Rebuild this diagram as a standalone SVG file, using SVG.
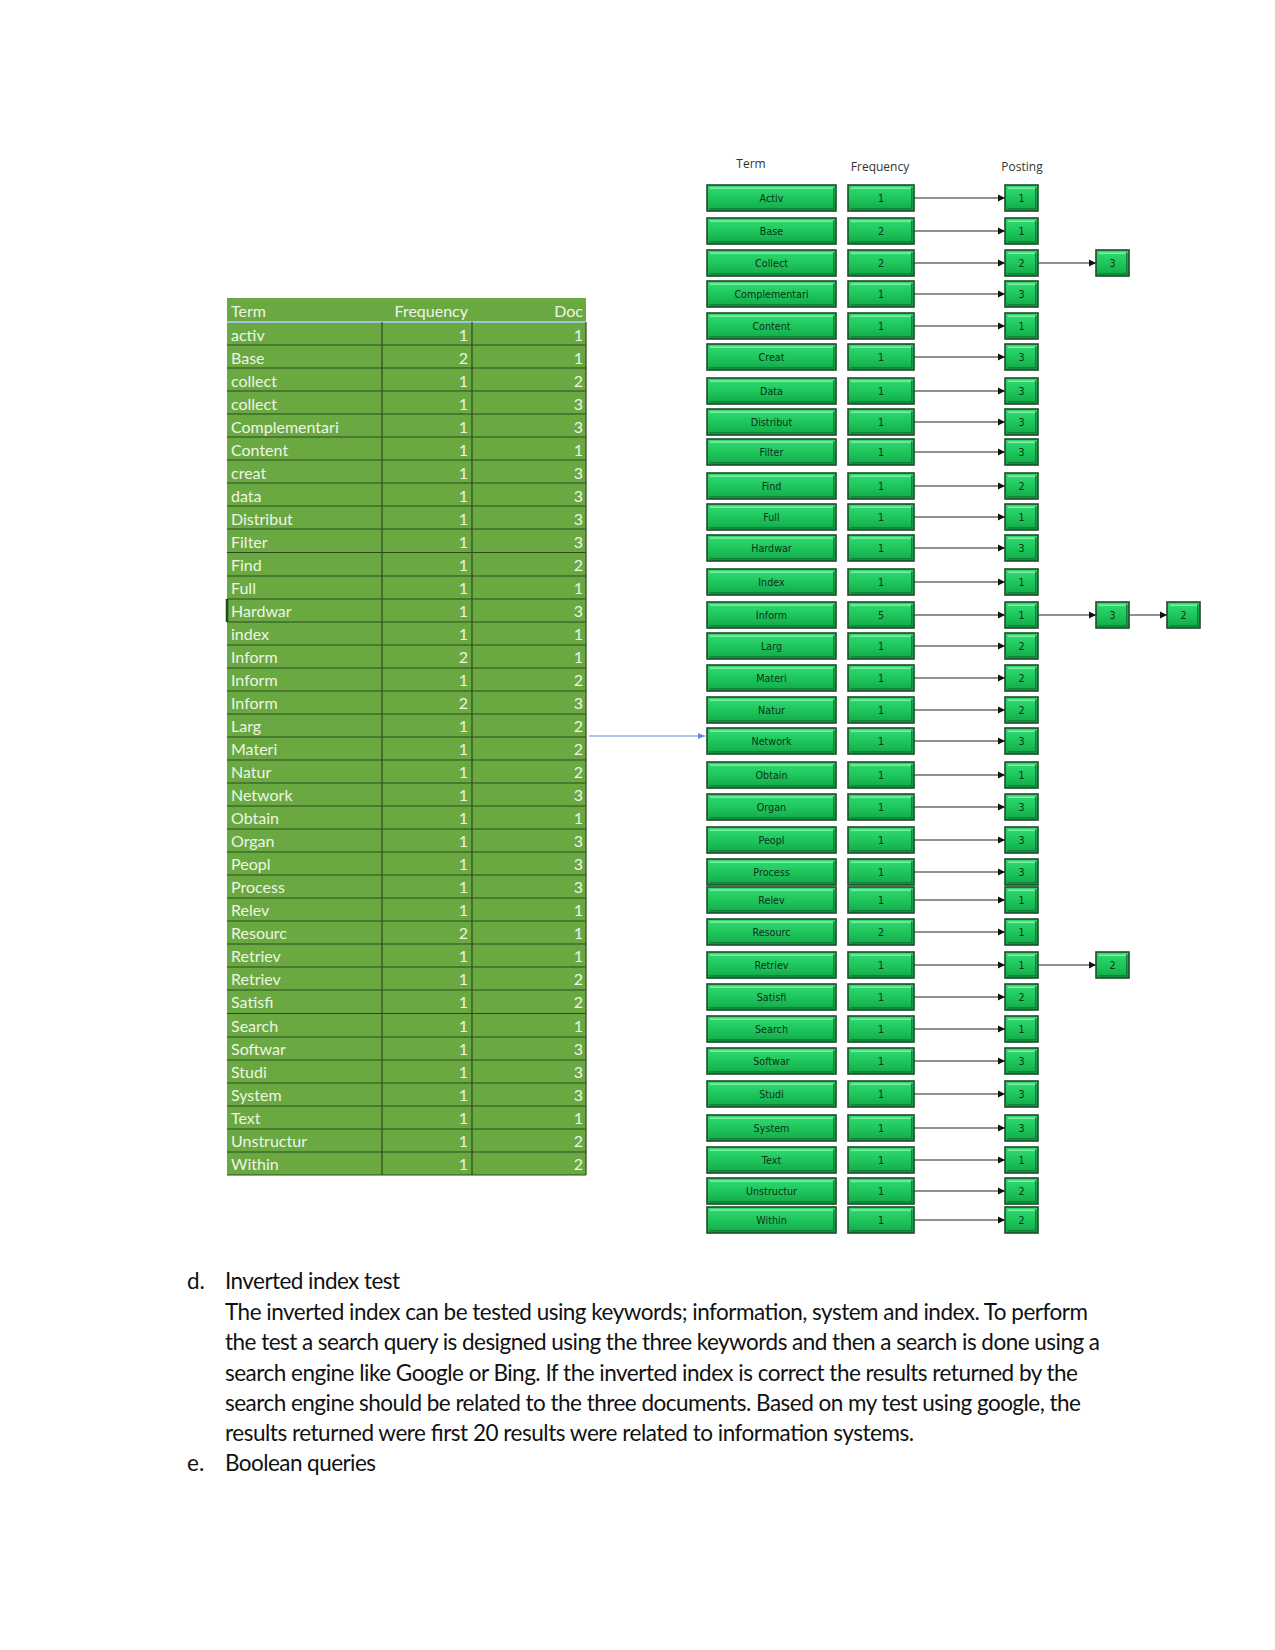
<svg xmlns="http://www.w3.org/2000/svg" xmlns:xlink="http://www.w3.org/1999/xlink" width="1275" height="1650" viewBox="0 0 1275 1650">
<style>
.tc{fill:#6aa842}
.rl{stroke:#2b4a1f;stroke-width:1.2}
.tt{font-family:Lato,"Liberation Sans",sans-serif;font-size:16px;fill:#eef5e4}
.num{text-anchor:end}
.bx{fill:url(#gg);stroke:#1f4a2a;stroke-width:1.6}
.hl{stroke:#8ef3b2;stroke-width:1.3;fill:none}
.sh{stroke:#0d7834;stroke-width:1.3;fill:none}
.bt{font-family:"DejaVu Sans",Verdana,sans-serif;font-size:9.6px;fill:#10301a;text-anchor:middle}
.hd{font-family:"Open Sans","Liberation Sans",sans-serif;font-size:12px;fill:#333;text-anchor:middle}
.cn{stroke:#222;stroke-width:1.2;fill:none}
.body{font-family:Lato,"Liberation Sans",sans-serif;font-size:22.5px;fill:#111}
</style>
<defs>
<linearGradient id="gg" x1="0" y1="0" x2="0" y2="1">
<stop offset="0" stop-color="#34dc74"/>
<stop offset="0.5" stop-color="#1ec75c"/>
<stop offset="1" stop-color="#13a748"/>
</linearGradient>
<marker id="ah" markerWidth="8" markerHeight="8" refX="7" refY="4" orient="auto" markerUnits="userSpaceOnUse"><path d="M0,0.5 L7,4 L0,7.5z" fill="#111"/></marker>
<marker id="ahb" markerWidth="8" markerHeight="8" refX="7" refY="4" orient="auto" markerUnits="userSpaceOnUse"><path d="M0,1 L7,4 L0,7z" fill="#5b8bd0"/></marker>
<g id="boxT"><rect x="0" y="0" width="129" height="26" class="bx"/><path class="hl" d="M3 3.2H126"/><path class="sh" d="M126.8 2.5V23.8H2.5"/></g>
<g id="boxF"><rect x="0" y="0" width="66" height="26" class="bx"/><path class="hl" d="M3 3.2H63"/><path class="sh" d="M63.8 2.5V23.8H2.5"/></g>
<g id="boxP"><rect x="0" y="0" width="33" height="26" class="bx"/><path class="hl" d="M3 3.2H30"/><path class="sh" d="M30.8 2.5V23.8H2.5"/></g>
</defs>
<rect width="1275" height="1650" fill="#fff"/>

<!-- Left table -->
<g id="table">
<rect class="tc" x="227" y="298" width="359" height="877"/>
<line x1="227" y1="322" x2="586" y2="322" stroke="#9fc5e0" stroke-width="2"/>
<text class="tt" x="231" y="317">Term</text>
<text class="tt num" x="468" y="317">Frequency</text>
<text class="tt num" x="583" y="317">Doc</text>
<g class="rl">
<line x1="382" y1="322" x2="382" y2="1175"/>
<line x1="472" y1="322" x2="472" y2="1175"/>
<line x1="586" y1="322" x2="586" y2="1175"/>
<line x1="227" y1="345" x2="586" y2="345"/>
<line x1="227" y1="368" x2="586" y2="368"/>
<line x1="227" y1="391" x2="586" y2="391"/>
<line x1="227" y1="414" x2="586" y2="414"/>
<line x1="227" y1="437" x2="586" y2="437"/>
<line x1="227" y1="460" x2="586" y2="460"/>
<line x1="227" y1="483" x2="586" y2="483"/>
<line x1="227" y1="506" x2="586" y2="506"/>
<line x1="227" y1="529" x2="586" y2="529"/>
<line x1="227" y1="552.5" x2="586" y2="552.5"/>
<line x1="227" y1="576" x2="586" y2="576"/>
<line x1="227" y1="599" x2="586" y2="599"/>
<line x1="227" y1="622" x2="586" y2="622"/>
<line x1="227" y1="645" x2="586" y2="645"/>
<line x1="227" y1="668" x2="586" y2="668"/>
<line x1="227" y1="691" x2="586" y2="691"/>
<line x1="227" y1="714" x2="586" y2="714"/>
<line x1="227" y1="737" x2="586" y2="737"/>
<line x1="227" y1="760" x2="586" y2="760"/>
<line x1="227" y1="783" x2="586" y2="783"/>
<line x1="227" y1="806" x2="586" y2="806"/>
<line x1="227" y1="829" x2="586" y2="829"/>
<line x1="227" y1="852" x2="586" y2="852"/>
<line x1="227" y1="875" x2="586" y2="875"/>
<line x1="227" y1="898" x2="586" y2="898"/>
<line x1="227" y1="921" x2="586" y2="921"/>
<line x1="227" y1="944" x2="586" y2="944"/>
<line x1="227" y1="967" x2="586" y2="967"/>
<line x1="227" y1="990" x2="586" y2="990"/>
<line x1="227" y1="1013.5" x2="586" y2="1013.5"/>
<line x1="227" y1="1037" x2="586" y2="1037"/>
<line x1="227" y1="1060" x2="586" y2="1060"/>
<line x1="227" y1="1083" x2="586" y2="1083"/>
<line x1="227" y1="1106" x2="586" y2="1106"/>
<line x1="227" y1="1129" x2="586" y2="1129"/>
<line x1="227" y1="1152" x2="586" y2="1152"/>
<line x1="227" y1="1175" x2="586" y2="1175"/>
</g>
<line x1="227" y1="599" x2="227" y2="622" stroke="#1e4d1a" stroke-width="2.5"/>
<g class="tt">
<text x="231" y="341">activ</text><text class="num" x="468" y="341">1</text><text class="num" x="583" y="341">1</text>
<text x="231" y="364">Base</text><text class="num" x="468" y="364">2</text><text class="num" x="583" y="364">1</text>
<text x="231" y="387">collect</text><text class="num" x="468" y="387">1</text><text class="num" x="583" y="387">2</text>
<text x="231" y="410">collect</text><text class="num" x="468" y="410">1</text><text class="num" x="583" y="410">3</text>
<text x="231" y="433">Complementari</text><text class="num" x="468" y="433">1</text><text class="num" x="583" y="433">3</text>
<text x="231" y="456">Content</text><text class="num" x="468" y="456">1</text><text class="num" x="583" y="456">1</text>
<text x="231" y="479">creat</text><text class="num" x="468" y="479">1</text><text class="num" x="583" y="479">3</text>
<text x="231" y="502">data</text><text class="num" x="468" y="502">1</text><text class="num" x="583" y="502">3</text>
<text x="231" y="525">Distribut</text><text class="num" x="468" y="525">1</text><text class="num" x="583" y="525">3</text>
<text x="231" y="548">Filter</text><text class="num" x="468" y="548">1</text><text class="num" x="583" y="548">3</text>
<text x="231" y="571">Find</text><text class="num" x="468" y="571">1</text><text class="num" x="583" y="571">2</text>
<text x="231" y="594">Full</text><text class="num" x="468" y="594">1</text><text class="num" x="583" y="594">1</text>
<text x="231" y="617">Hardwar</text><text class="num" x="468" y="617">1</text><text class="num" x="583" y="617">3</text>
<text x="231" y="640">index</text><text class="num" x="468" y="640">1</text><text class="num" x="583" y="640">1</text>
<text x="231" y="663">Inform</text><text class="num" x="468" y="663">2</text><text class="num" x="583" y="663">1</text>
<text x="231" y="686">Inform</text><text class="num" x="468" y="686">1</text><text class="num" x="583" y="686">2</text>
<text x="231" y="709">Inform</text><text class="num" x="468" y="709">2</text><text class="num" x="583" y="709">3</text>
<text x="231" y="732">Larg</text><text class="num" x="468" y="732">1</text><text class="num" x="583" y="732">2</text>
<text x="231" y="755">Materi</text><text class="num" x="468" y="755">1</text><text class="num" x="583" y="755">2</text>
<text x="231" y="778">Natur</text><text class="num" x="468" y="778">1</text><text class="num" x="583" y="778">2</text>
<text x="231" y="801">Network</text><text class="num" x="468" y="801">1</text><text class="num" x="583" y="801">3</text>
<text x="231" y="824">Obtain</text><text class="num" x="468" y="824">1</text><text class="num" x="583" y="824">1</text>
<text x="231" y="847">Organ</text><text class="num" x="468" y="847">1</text><text class="num" x="583" y="847">3</text>
<text x="231" y="870">Peopl</text><text class="num" x="468" y="870">1</text><text class="num" x="583" y="870">3</text>
<text x="231" y="893">Process</text><text class="num" x="468" y="893">1</text><text class="num" x="583" y="893">3</text>
<text x="231" y="916">Relev</text><text class="num" x="468" y="916">1</text><text class="num" x="583" y="916">1</text>
<text x="231" y="939">Resourc</text><text class="num" x="468" y="939">2</text><text class="num" x="583" y="939">1</text>
<text x="231" y="962">Retriev</text><text class="num" x="468" y="962">1</text><text class="num" x="583" y="962">1</text>
<text x="231" y="985">Retriev</text><text class="num" x="468" y="985">1</text><text class="num" x="583" y="985">2</text>
<text x="231" y="1008">Satisfi</text><text class="num" x="468" y="1008">1</text><text class="num" x="583" y="1008">2</text>
<text x="231" y="1032">Search</text><text class="num" x="468" y="1032">1</text><text class="num" x="583" y="1032">1</text>
<text x="231" y="1055">Softwar</text><text class="num" x="468" y="1055">1</text><text class="num" x="583" y="1055">3</text>
<text x="231" y="1078">Studi</text><text class="num" x="468" y="1078">1</text><text class="num" x="583" y="1078">3</text>
<text x="231" y="1101">System</text><text class="num" x="468" y="1101">1</text><text class="num" x="583" y="1101">3</text>
<text x="231" y="1124">Text</text><text class="num" x="468" y="1124">1</text><text class="num" x="583" y="1124">1</text>
<text x="231" y="1147">Unstructur</text><text class="num" x="468" y="1147">1</text><text class="num" x="583" y="1147">2</text>
<text x="231" y="1170">Within</text><text class="num" x="468" y="1170">1</text><text class="num" x="583" y="1170">2</text>
</g>
</g>

<!-- Right diagram headers -->
<g id="headers">
<text class="hd" x="751" y="168">Term</text>
<text class="hd" x="880" y="171">Frequency</text>
<text class="hd" x="1022" y="171">Posting</text>
</g>

<!-- Connectors -->
<g id="connectors">
<line x1="589" y1="736" x2="705" y2="736" stroke="#5b8bd0" stroke-width="1" marker-end="url(#ahb)"/>
<g class="cn" marker-end="url(#ah)">
<line x1="914" y1="198" x2="1005" y2="198"/>
<line x1="914" y1="231" x2="1005" y2="231"/>
<line x1="914" y1="263" x2="1005" y2="263"/>
<line x1="1038" y1="263" x2="1096" y2="263"/>
<line x1="914" y1="294" x2="1005" y2="294"/>
<line x1="914" y1="326" x2="1005" y2="326"/>
<line x1="914" y1="357" x2="1005" y2="357"/>
<line x1="914" y1="391" x2="1005" y2="391"/>
<line x1="914" y1="422" x2="1005" y2="422"/>
<line x1="914" y1="452" x2="1005" y2="452"/>
<line x1="914" y1="486" x2="1005" y2="486"/>
<line x1="914" y1="517" x2="1005" y2="517"/>
<line x1="914" y1="548" x2="1005" y2="548"/>
<line x1="914" y1="582" x2="1005" y2="582"/>
<line x1="914" y1="615" x2="1005" y2="615"/>
<line x1="1038" y1="615" x2="1096" y2="615"/>
<line x1="1129" y1="615" x2="1167" y2="615"/>
<line x1="914" y1="646" x2="1005" y2="646"/>
<line x1="914" y1="678" x2="1005" y2="678"/>
<line x1="914" y1="710" x2="1005" y2="710"/>
<line x1="914" y1="741" x2="1005" y2="741"/>
<line x1="914" y1="775" x2="1005" y2="775"/>
<line x1="914" y1="807" x2="1005" y2="807"/>
<line x1="914" y1="840" x2="1005" y2="840"/>
<line x1="914" y1="872" x2="1005" y2="872"/>
<line x1="914" y1="900" x2="1005" y2="900"/>
<line x1="914" y1="932" x2="1005" y2="932"/>
<line x1="914" y1="965" x2="1005" y2="965"/>
<line x1="1038" y1="965" x2="1096" y2="965"/>
<line x1="914" y1="997" x2="1005" y2="997"/>
<line x1="914" y1="1029" x2="1005" y2="1029"/>
<line x1="914" y1="1061" x2="1005" y2="1061"/>
<line x1="914" y1="1094" x2="1005" y2="1094"/>
<line x1="914" y1="1128" x2="1005" y2="1128"/>
<line x1="914" y1="1160" x2="1005" y2="1160"/>
<line x1="914" y1="1191" x2="1005" y2="1191"/>
<line x1="914" y1="1220" x2="1005" y2="1220"/>
</g>
</g>

<!-- Nodes -->
<g id="nodes">
<g id="t-activ"><use xlink:href="#boxT" x="707" y="185"/><text class="bt" x="771.5" y="201.5">Activ</text></g>
<g id="f-activ"><use xlink:href="#boxF" x="848" y="185"/><text class="bt" x="881" y="201.5">1</text></g>
<g id="p-activ-1"><use xlink:href="#boxP" x="1005" y="185"/><text class="bt" x="1021.5" y="201.5">1</text></g>

<g id="t-base"><use xlink:href="#boxT" x="707" y="218"/><text class="bt" x="771.5" y="234.5">Base</text></g>
<g id="f-base"><use xlink:href="#boxF" x="848" y="218"/><text class="bt" x="881" y="234.5">2</text></g>
<g id="p-base-1"><use xlink:href="#boxP" x="1005" y="218"/><text class="bt" x="1021.5" y="234.5">1</text></g>

<g id="t-collect"><use xlink:href="#boxT" x="707" y="250"/><text class="bt" x="771.5" y="266.5">Collect</text></g>
<g id="f-collect"><use xlink:href="#boxF" x="848" y="250"/><text class="bt" x="881" y="266.5">2</text></g>
<g id="p-collect-1"><use xlink:href="#boxP" x="1005" y="250"/><text class="bt" x="1021.5" y="266.5">2</text></g>
<g id="p-collect-2"><use xlink:href="#boxP" x="1096" y="250"/><text class="bt" x="1112.5" y="266.5">3</text></g>

<g id="t-complementari"><use xlink:href="#boxT" x="707" y="281"/><text class="bt" x="771.5" y="297.5">Complementari</text></g>
<g id="f-complementari"><use xlink:href="#boxF" x="848" y="281"/><text class="bt" x="881" y="297.5">1</text></g>
<g id="p-complementari-1"><use xlink:href="#boxP" x="1005" y="281"/><text class="bt" x="1021.5" y="297.5">3</text></g>

<g id="t-content"><use xlink:href="#boxT" x="707" y="313"/><text class="bt" x="771.5" y="329.5">Content</text></g>
<g id="f-content"><use xlink:href="#boxF" x="848" y="313"/><text class="bt" x="881" y="329.5">1</text></g>
<g id="p-content-1"><use xlink:href="#boxP" x="1005" y="313"/><text class="bt" x="1021.5" y="329.5">1</text></g>

<g id="t-creat"><use xlink:href="#boxT" x="707" y="344"/><text class="bt" x="771.5" y="360.5">Creat</text></g>
<g id="f-creat"><use xlink:href="#boxF" x="848" y="344"/><text class="bt" x="881" y="360.5">1</text></g>
<g id="p-creat-1"><use xlink:href="#boxP" x="1005" y="344"/><text class="bt" x="1021.5" y="360.5">3</text></g>

<g id="t-data"><use xlink:href="#boxT" x="707" y="378"/><text class="bt" x="771.5" y="394.5">Data</text></g>
<g id="f-data"><use xlink:href="#boxF" x="848" y="378"/><text class="bt" x="881" y="394.5">1</text></g>
<g id="p-data-1"><use xlink:href="#boxP" x="1005" y="378"/><text class="bt" x="1021.5" y="394.5">3</text></g>

<g id="t-distribut"><use xlink:href="#boxT" x="707" y="409"/><text class="bt" x="771.5" y="425.5">Distribut</text></g>
<g id="f-distribut"><use xlink:href="#boxF" x="848" y="409"/><text class="bt" x="881" y="425.5">1</text></g>
<g id="p-distribut-1"><use xlink:href="#boxP" x="1005" y="409"/><text class="bt" x="1021.5" y="425.5">3</text></g>

<g id="t-filter"><use xlink:href="#boxT" x="707" y="439"/><text class="bt" x="771.5" y="455.5">Filter</text></g>
<g id="f-filter"><use xlink:href="#boxF" x="848" y="439"/><text class="bt" x="881" y="455.5">1</text></g>
<g id="p-filter-1"><use xlink:href="#boxP" x="1005" y="439"/><text class="bt" x="1021.5" y="455.5">3</text></g>

<g id="t-find"><use xlink:href="#boxT" x="707" y="473"/><text class="bt" x="771.5" y="489.5">Find</text></g>
<g id="f-find"><use xlink:href="#boxF" x="848" y="473"/><text class="bt" x="881" y="489.5">1</text></g>
<g id="p-find-1"><use xlink:href="#boxP" x="1005" y="473"/><text class="bt" x="1021.5" y="489.5">2</text></g>

<g id="t-full"><use xlink:href="#boxT" x="707" y="504"/><text class="bt" x="771.5" y="520.5">Full</text></g>
<g id="f-full"><use xlink:href="#boxF" x="848" y="504"/><text class="bt" x="881" y="520.5">1</text></g>
<g id="p-full-1"><use xlink:href="#boxP" x="1005" y="504"/><text class="bt" x="1021.5" y="520.5">1</text></g>

<g id="t-hardwar"><use xlink:href="#boxT" x="707" y="535"/><text class="bt" x="771.5" y="551.5">Hardwar</text></g>
<g id="f-hardwar"><use xlink:href="#boxF" x="848" y="535"/><text class="bt" x="881" y="551.5">1</text></g>
<g id="p-hardwar-1"><use xlink:href="#boxP" x="1005" y="535"/><text class="bt" x="1021.5" y="551.5">3</text></g>

<g id="t-index"><use xlink:href="#boxT" x="707" y="569"/><text class="bt" x="771.5" y="585.5">Index</text></g>
<g id="f-index"><use xlink:href="#boxF" x="848" y="569"/><text class="bt" x="881" y="585.5">1</text></g>
<g id="p-index-1"><use xlink:href="#boxP" x="1005" y="569"/><text class="bt" x="1021.5" y="585.5">1</text></g>

<g id="t-inform"><use xlink:href="#boxT" x="707" y="602"/><text class="bt" x="771.5" y="618.5">Inform</text></g>
<g id="f-inform"><use xlink:href="#boxF" x="848" y="602"/><text class="bt" x="881" y="618.5">5</text></g>
<g id="p-inform-1"><use xlink:href="#boxP" x="1005" y="602"/><text class="bt" x="1021.5" y="618.5">1</text></g>
<g id="p-inform-2"><use xlink:href="#boxP" x="1096" y="602"/><text class="bt" x="1112.5" y="618.5">3</text></g>
<g id="p-inform-3"><use xlink:href="#boxP" x="1167" y="602"/><text class="bt" x="1183.5" y="618.5">2</text></g>

<g id="t-larg"><use xlink:href="#boxT" x="707" y="633"/><text class="bt" x="771.5" y="649.5">Larg</text></g>
<g id="f-larg"><use xlink:href="#boxF" x="848" y="633"/><text class="bt" x="881" y="649.5">1</text></g>
<g id="p-larg-1"><use xlink:href="#boxP" x="1005" y="633"/><text class="bt" x="1021.5" y="649.5">2</text></g>

<g id="t-materi"><use xlink:href="#boxT" x="707" y="665"/><text class="bt" x="771.5" y="681.5">Materi</text></g>
<g id="f-materi"><use xlink:href="#boxF" x="848" y="665"/><text class="bt" x="881" y="681.5">1</text></g>
<g id="p-materi-1"><use xlink:href="#boxP" x="1005" y="665"/><text class="bt" x="1021.5" y="681.5">2</text></g>

<g id="t-natur"><use xlink:href="#boxT" x="707" y="697"/><text class="bt" x="771.5" y="713.5">Natur</text></g>
<g id="f-natur"><use xlink:href="#boxF" x="848" y="697"/><text class="bt" x="881" y="713.5">1</text></g>
<g id="p-natur-1"><use xlink:href="#boxP" x="1005" y="697"/><text class="bt" x="1021.5" y="713.5">2</text></g>

<g id="t-network"><use xlink:href="#boxT" x="707" y="728"/><text class="bt" x="771.5" y="744.5">Network</text></g>
<g id="f-network"><use xlink:href="#boxF" x="848" y="728"/><text class="bt" x="881" y="744.5">1</text></g>
<g id="p-network-1"><use xlink:href="#boxP" x="1005" y="728"/><text class="bt" x="1021.5" y="744.5">3</text></g>

<g id="t-obtain"><use xlink:href="#boxT" x="707" y="762"/><text class="bt" x="771.5" y="778.5">Obtain</text></g>
<g id="f-obtain"><use xlink:href="#boxF" x="848" y="762"/><text class="bt" x="881" y="778.5">1</text></g>
<g id="p-obtain-1"><use xlink:href="#boxP" x="1005" y="762"/><text class="bt" x="1021.5" y="778.5">1</text></g>

<g id="t-organ"><use xlink:href="#boxT" x="707" y="794"/><text class="bt" x="771.5" y="810.5">Organ</text></g>
<g id="f-organ"><use xlink:href="#boxF" x="848" y="794"/><text class="bt" x="881" y="810.5">1</text></g>
<g id="p-organ-1"><use xlink:href="#boxP" x="1005" y="794"/><text class="bt" x="1021.5" y="810.5">3</text></g>

<g id="t-peopl"><use xlink:href="#boxT" x="707" y="827"/><text class="bt" x="771.5" y="843.5">Peopl</text></g>
<g id="f-peopl"><use xlink:href="#boxF" x="848" y="827"/><text class="bt" x="881" y="843.5">1</text></g>
<g id="p-peopl-1"><use xlink:href="#boxP" x="1005" y="827"/><text class="bt" x="1021.5" y="843.5">3</text></g>

<g id="t-process"><use xlink:href="#boxT" x="707" y="859"/><text class="bt" x="771.5" y="875.5">Process</text></g>
<g id="f-process"><use xlink:href="#boxF" x="848" y="859"/><text class="bt" x="881" y="875.5">1</text></g>
<g id="p-process-1"><use xlink:href="#boxP" x="1005" y="859"/><text class="bt" x="1021.5" y="875.5">3</text></g>

<g id="t-relev"><use xlink:href="#boxT" x="707" y="887"/><text class="bt" x="771.5" y="903.5">Relev</text></g>
<g id="f-relev"><use xlink:href="#boxF" x="848" y="887"/><text class="bt" x="881" y="903.5">1</text></g>
<g id="p-relev-1"><use xlink:href="#boxP" x="1005" y="887"/><text class="bt" x="1021.5" y="903.5">1</text></g>

<g id="t-resourc"><use xlink:href="#boxT" x="707" y="919"/><text class="bt" x="771.5" y="935.5">Resourc</text></g>
<g id="f-resourc"><use xlink:href="#boxF" x="848" y="919"/><text class="bt" x="881" y="935.5">2</text></g>
<g id="p-resourc-1"><use xlink:href="#boxP" x="1005" y="919"/><text class="bt" x="1021.5" y="935.5">1</text></g>

<g id="t-retriev"><use xlink:href="#boxT" x="707" y="952"/><text class="bt" x="771.5" y="968.5">Retriev</text></g>
<g id="f-retriev"><use xlink:href="#boxF" x="848" y="952"/><text class="bt" x="881" y="968.5">1</text></g>
<g id="p-retriev-1"><use xlink:href="#boxP" x="1005" y="952"/><text class="bt" x="1021.5" y="968.5">1</text></g>
<g id="p-retriev-2"><use xlink:href="#boxP" x="1096" y="952"/><text class="bt" x="1112.5" y="968.5">2</text></g>

<g id="t-satisfi"><use xlink:href="#boxT" x="707" y="984"/><text class="bt" x="771.5" y="1000.5">Satisfi</text></g>
<g id="f-satisfi"><use xlink:href="#boxF" x="848" y="984"/><text class="bt" x="881" y="1000.5">1</text></g>
<g id="p-satisfi-1"><use xlink:href="#boxP" x="1005" y="984"/><text class="bt" x="1021.5" y="1000.5">2</text></g>

<g id="t-search"><use xlink:href="#boxT" x="707" y="1016"/><text class="bt" x="771.5" y="1032.5">Search</text></g>
<g id="f-search"><use xlink:href="#boxF" x="848" y="1016"/><text class="bt" x="881" y="1032.5">1</text></g>
<g id="p-search-1"><use xlink:href="#boxP" x="1005" y="1016"/><text class="bt" x="1021.5" y="1032.5">1</text></g>

<g id="t-softwar"><use xlink:href="#boxT" x="707" y="1048"/><text class="bt" x="771.5" y="1064.5">Softwar</text></g>
<g id="f-softwar"><use xlink:href="#boxF" x="848" y="1048"/><text class="bt" x="881" y="1064.5">1</text></g>
<g id="p-softwar-1"><use xlink:href="#boxP" x="1005" y="1048"/><text class="bt" x="1021.5" y="1064.5">3</text></g>

<g id="t-studi"><use xlink:href="#boxT" x="707" y="1081"/><text class="bt" x="771.5" y="1097.5">Studi</text></g>
<g id="f-studi"><use xlink:href="#boxF" x="848" y="1081"/><text class="bt" x="881" y="1097.5">1</text></g>
<g id="p-studi-1"><use xlink:href="#boxP" x="1005" y="1081"/><text class="bt" x="1021.5" y="1097.5">3</text></g>

<g id="t-system"><use xlink:href="#boxT" x="707" y="1115"/><text class="bt" x="771.5" y="1131.5">System</text></g>
<g id="f-system"><use xlink:href="#boxF" x="848" y="1115"/><text class="bt" x="881" y="1131.5">1</text></g>
<g id="p-system-1"><use xlink:href="#boxP" x="1005" y="1115"/><text class="bt" x="1021.5" y="1131.5">3</text></g>

<g id="t-text"><use xlink:href="#boxT" x="707" y="1147"/><text class="bt" x="771.5" y="1163.5">Text</text></g>
<g id="f-text"><use xlink:href="#boxF" x="848" y="1147"/><text class="bt" x="881" y="1163.5">1</text></g>
<g id="p-text-1"><use xlink:href="#boxP" x="1005" y="1147"/><text class="bt" x="1021.5" y="1163.5">1</text></g>

<g id="t-unstructur"><use xlink:href="#boxT" x="707" y="1178"/><text class="bt" x="771.5" y="1194.5">Unstructur</text></g>
<g id="f-unstructur"><use xlink:href="#boxF" x="848" y="1178"/><text class="bt" x="881" y="1194.5">1</text></g>
<g id="p-unstructur-1"><use xlink:href="#boxP" x="1005" y="1178"/><text class="bt" x="1021.5" y="1194.5">2</text></g>

<g id="t-within"><use xlink:href="#boxT" x="707" y="1207"/><text class="bt" x="771.5" y="1223.5">Within</text></g>
<g id="f-within"><use xlink:href="#boxF" x="848" y="1207"/><text class="bt" x="881" y="1223.5">1</text></g>
<g id="p-within-1"><use xlink:href="#boxP" x="1005" y="1207"/><text class="bt" x="1021.5" y="1223.5">2</text></g>
</g>

<!-- Body text -->
<g id="body" class="body">
<text x="187" y="1289">d.</text>
<text x="225" y="1289" textLength="175" lengthAdjust="spacing">Inverted index test</text>
<text x="225" y="1320" textLength="863" lengthAdjust="spacing">The inverted index can be tested using keywords; information, system and index. To perform</text>
<text x="225" y="1350" textLength="875" lengthAdjust="spacing">the test a search query is designed using the three keywords and then a search is done using a</text>
<text x="225" y="1381" textLength="853" lengthAdjust="spacing">search engine like Google or Bing. If the inverted index is correct the results returned by the</text>
<text x="225" y="1411" textLength="856" lengthAdjust="spacing">search engine should be related to the three documents. Based on my test using google, the</text>
<text x="225" y="1441" textLength="689" lengthAdjust="spacing">results returned were first 20 results were related to information systems.</text>
<text x="187" y="1471">e.</text>
<text x="225" y="1471" textLength="151" lengthAdjust="spacing">Boolean queries</text>
</g>
</svg>
